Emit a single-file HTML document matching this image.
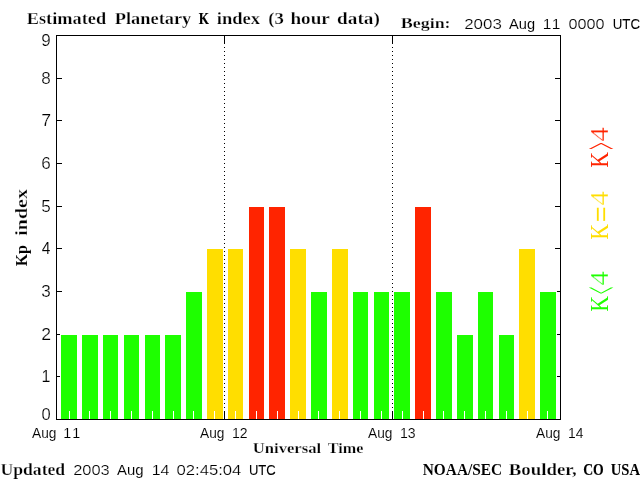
<!DOCTYPE html>
<html lang="en">
<head>
<meta charset="utf-8">
<title>Estimated Planetary K index (3 hour data)</title>
<style>
html,body{margin:0;padding:0;background:#fff;}
body{width:640px;height:480px;overflow:hidden;}
svg{display:block;}
.sb{font-family:"Liberation Serif",serif;font-weight:bold;stroke-width:0.25px;}
.sr{font-family:"Liberation Serif",serif;font-weight:normal;stroke:none;}
.ss{font-family:"Liberation Sans",sans-serif;font-weight:normal;stroke-width:0.22px;}
text{fill:#000;stroke:#fff;}
</style>
</head>
<body>
<svg width="640" height="480" viewBox="0 0 640 480">
<rect x="0" y="0" width="640" height="480" fill="#fff"/>
<g shape-rendering="crispEdges">
<rect x="57" y="376" width="5" height="1" fill="#000"/>
<rect x="555" y="376" width="5" height="1" fill="#000"/>
<rect x="57" y="334" width="5" height="1" fill="#000"/>
<rect x="555" y="334" width="5" height="1" fill="#000"/>
<rect x="57" y="291" width="5" height="1" fill="#000"/>
<rect x="555" y="291" width="5" height="1" fill="#000"/>
<rect x="57" y="248" width="5" height="1" fill="#000"/>
<rect x="555" y="248" width="5" height="1" fill="#000"/>
<rect x="57" y="206" width="5" height="1" fill="#000"/>
<rect x="555" y="206" width="5" height="1" fill="#000"/>
<rect x="57" y="163" width="5" height="1" fill="#000"/>
<rect x="555" y="163" width="5" height="1" fill="#000"/>
<rect x="57" y="120" width="5" height="1" fill="#000"/>
<rect x="555" y="120" width="5" height="1" fill="#000"/>
<rect x="57" y="78" width="5" height="1" fill="#000"/>
<rect x="555" y="78" width="5" height="1" fill="#000"/>
<rect x="60" y="334" width="18" height="85" fill="#fff"/>
<rect x="61" y="335" width="16" height="84" fill="#1eff00"/>
<rect x="81" y="334" width="18" height="85" fill="#fff"/>
<rect x="82" y="335" width="16" height="84" fill="#1eff00"/>
<rect x="102" y="334" width="17" height="85" fill="#fff"/>
<rect x="103" y="335" width="15" height="84" fill="#1eff00"/>
<rect x="123" y="334" width="17" height="85" fill="#fff"/>
<rect x="124" y="335" width="15" height="84" fill="#1eff00"/>
<rect x="144" y="334" width="17" height="85" fill="#fff"/>
<rect x="145" y="335" width="15" height="84" fill="#1eff00"/>
<rect x="164" y="334" width="18" height="85" fill="#fff"/>
<rect x="165" y="335" width="16" height="84" fill="#1eff00"/>
<rect x="185" y="291" width="18" height="128" fill="#fff"/>
<rect x="186" y="292" width="16" height="127" fill="#1eff00"/>
<rect x="206" y="248" width="18" height="171" fill="#fff"/>
<rect x="207" y="249" width="16" height="170" fill="#ffde00"/>
<rect x="227" y="248" width="17" height="171" fill="#fff"/>
<rect x="228" y="249" width="15" height="170" fill="#ffde00"/>
<rect x="248" y="206" width="17" height="213" fill="#fff"/>
<rect x="249" y="207" width="15" height="212" fill="#ff2400"/>
<rect x="268" y="206" width="18" height="213" fill="#fff"/>
<rect x="269" y="207" width="16" height="212" fill="#ff2400"/>
<rect x="289" y="248" width="18" height="171" fill="#fff"/>
<rect x="290" y="249" width="16" height="170" fill="#ffde00"/>
<rect x="310" y="291" width="18" height="128" fill="#fff"/>
<rect x="311" y="292" width="16" height="127" fill="#1eff00"/>
<rect x="331" y="248" width="18" height="171" fill="#fff"/>
<rect x="332" y="249" width="16" height="170" fill="#ffde00"/>
<rect x="352" y="291" width="17" height="128" fill="#fff"/>
<rect x="353" y="292" width="15" height="127" fill="#1eff00"/>
<rect x="373" y="291" width="17" height="128" fill="#fff"/>
<rect x="374" y="292" width="15" height="127" fill="#1eff00"/>
<rect x="393" y="291" width="18" height="128" fill="#fff"/>
<rect x="394" y="292" width="16" height="127" fill="#1eff00"/>
<rect x="414" y="206" width="18" height="213" fill="#fff"/>
<rect x="415" y="207" width="16" height="212" fill="#ff2400"/>
<rect x="435" y="291" width="18" height="128" fill="#fff"/>
<rect x="436" y="292" width="16" height="127" fill="#1eff00"/>
<rect x="456" y="334" width="18" height="85" fill="#fff"/>
<rect x="457" y="335" width="16" height="84" fill="#1eff00"/>
<rect x="477" y="291" width="17" height="128" fill="#fff"/>
<rect x="478" y="292" width="15" height="127" fill="#1eff00"/>
<rect x="498" y="334" width="17" height="85" fill="#fff"/>
<rect x="499" y="335" width="15" height="84" fill="#1eff00"/>
<rect x="518" y="248" width="18" height="171" fill="#fff"/>
<rect x="519" y="249" width="16" height="170" fill="#ffde00"/>
<rect x="539" y="291" width="18" height="128" fill="#fff"/>
<rect x="540" y="292" width="16" height="127" fill="#1eff00"/>
<rect x="69" y="411" width="1" height="8" fill="#fff"/>
<rect x="89" y="411" width="1" height="8" fill="#fff"/>
<rect x="110" y="411" width="1" height="8" fill="#fff"/>
<rect x="131" y="411" width="1" height="8" fill="#fff"/>
<rect x="152" y="411" width="1" height="8" fill="#fff"/>
<rect x="173" y="411" width="1" height="8" fill="#fff"/>
<rect x="193" y="411" width="1" height="8" fill="#fff"/>
<rect x="214" y="411" width="1" height="8" fill="#fff"/>
<rect x="235" y="411" width="1" height="8" fill="#fff"/>
<rect x="256" y="411" width="1" height="8" fill="#fff"/>
<rect x="277" y="411" width="1" height="8" fill="#fff"/>
<rect x="298" y="411" width="1" height="8" fill="#fff"/>
<rect x="318" y="411" width="1" height="8" fill="#fff"/>
<rect x="339" y="411" width="1" height="8" fill="#fff"/>
<rect x="360" y="411" width="1" height="8" fill="#fff"/>
<rect x="381" y="411" width="1" height="8" fill="#fff"/>
<rect x="402" y="411" width="1" height="8" fill="#fff"/>
<rect x="423" y="411" width="1" height="8" fill="#fff"/>
<rect x="443" y="411" width="1" height="8" fill="#fff"/>
<rect x="464" y="411" width="1" height="8" fill="#fff"/>
<rect x="485" y="411" width="1" height="8" fill="#fff"/>
<rect x="506" y="411" width="1" height="8" fill="#fff"/>
<rect x="527" y="411" width="1" height="8" fill="#fff"/>
<rect x="547" y="411" width="1" height="8" fill="#fff"/>
<rect x="56" y="35" width="505" height="1" fill="#000"/>
<rect x="56" y="419" width="505" height="1" fill="#000"/>
<rect x="56" y="35" width="1" height="385" fill="#000"/>
<rect x="560" y="35" width="1" height="385" fill="#000"/>
<rect x="224" y="36" width="1" height="8" fill="#000"/>
<rect x="224" y="411" width="1" height="8" fill="#000"/>
<rect x="224" y="47" width="1" height="1" fill="#000"/>
<rect x="224" y="51" width="1" height="1" fill="#000"/>
<rect x="224" y="55" width="1" height="1" fill="#000"/>
<rect x="224" y="59" width="1" height="1" fill="#000"/>
<rect x="224" y="63" width="1" height="1" fill="#000"/>
<rect x="224" y="67" width="1" height="1" fill="#000"/>
<rect x="224" y="71" width="1" height="1" fill="#000"/>
<rect x="224" y="75" width="1" height="1" fill="#000"/>
<rect x="224" y="79" width="1" height="1" fill="#000"/>
<rect x="224" y="83" width="1" height="1" fill="#000"/>
<rect x="224" y="87" width="1" height="1" fill="#000"/>
<rect x="224" y="91" width="1" height="1" fill="#000"/>
<rect x="224" y="95" width="1" height="1" fill="#000"/>
<rect x="224" y="99" width="1" height="1" fill="#000"/>
<rect x="224" y="103" width="1" height="1" fill="#000"/>
<rect x="224" y="107" width="1" height="1" fill="#000"/>
<rect x="224" y="111" width="1" height="1" fill="#000"/>
<rect x="224" y="115" width="1" height="1" fill="#000"/>
<rect x="224" y="119" width="1" height="1" fill="#000"/>
<rect x="224" y="123" width="1" height="1" fill="#000"/>
<rect x="224" y="127" width="1" height="1" fill="#000"/>
<rect x="224" y="131" width="1" height="1" fill="#000"/>
<rect x="224" y="135" width="1" height="1" fill="#000"/>
<rect x="224" y="139" width="1" height="1" fill="#000"/>
<rect x="224" y="143" width="1" height="1" fill="#000"/>
<rect x="224" y="147" width="1" height="1" fill="#000"/>
<rect x="224" y="151" width="1" height="1" fill="#000"/>
<rect x="224" y="155" width="1" height="1" fill="#000"/>
<rect x="224" y="159" width="1" height="1" fill="#000"/>
<rect x="224" y="163" width="1" height="1" fill="#000"/>
<rect x="224" y="167" width="1" height="1" fill="#000"/>
<rect x="224" y="171" width="1" height="1" fill="#000"/>
<rect x="224" y="175" width="1" height="1" fill="#000"/>
<rect x="224" y="179" width="1" height="1" fill="#000"/>
<rect x="224" y="183" width="1" height="1" fill="#000"/>
<rect x="224" y="187" width="1" height="1" fill="#000"/>
<rect x="224" y="191" width="1" height="1" fill="#000"/>
<rect x="224" y="195" width="1" height="1" fill="#000"/>
<rect x="224" y="199" width="1" height="1" fill="#000"/>
<rect x="224" y="203" width="1" height="1" fill="#000"/>
<rect x="224" y="207" width="1" height="1" fill="#000"/>
<rect x="224" y="211" width="1" height="1" fill="#000"/>
<rect x="224" y="215" width="1" height="1" fill="#000"/>
<rect x="224" y="219" width="1" height="1" fill="#000"/>
<rect x="224" y="223" width="1" height="1" fill="#000"/>
<rect x="224" y="227" width="1" height="1" fill="#000"/>
<rect x="224" y="231" width="1" height="1" fill="#000"/>
<rect x="224" y="235" width="1" height="1" fill="#000"/>
<rect x="224" y="239" width="1" height="1" fill="#000"/>
<rect x="224" y="243" width="1" height="1" fill="#000"/>
<rect x="224" y="247" width="1" height="1" fill="#000"/>
<rect x="224" y="251" width="1" height="1" fill="#000"/>
<rect x="224" y="255" width="1" height="1" fill="#000"/>
<rect x="224" y="259" width="1" height="1" fill="#000"/>
<rect x="224" y="263" width="1" height="1" fill="#000"/>
<rect x="224" y="267" width="1" height="1" fill="#000"/>
<rect x="224" y="271" width="1" height="1" fill="#000"/>
<rect x="224" y="275" width="1" height="1" fill="#000"/>
<rect x="224" y="279" width="1" height="1" fill="#000"/>
<rect x="224" y="283" width="1" height="1" fill="#000"/>
<rect x="224" y="287" width="1" height="1" fill="#000"/>
<rect x="224" y="291" width="1" height="1" fill="#000"/>
<rect x="224" y="295" width="1" height="1" fill="#000"/>
<rect x="224" y="299" width="1" height="1" fill="#000"/>
<rect x="224" y="303" width="1" height="1" fill="#000"/>
<rect x="224" y="307" width="1" height="1" fill="#000"/>
<rect x="224" y="311" width="1" height="1" fill="#000"/>
<rect x="224" y="315" width="1" height="1" fill="#000"/>
<rect x="224" y="319" width="1" height="1" fill="#000"/>
<rect x="224" y="323" width="1" height="1" fill="#000"/>
<rect x="224" y="327" width="1" height="1" fill="#000"/>
<rect x="224" y="331" width="1" height="1" fill="#000"/>
<rect x="224" y="335" width="1" height="1" fill="#000"/>
<rect x="224" y="339" width="1" height="1" fill="#000"/>
<rect x="224" y="343" width="1" height="1" fill="#000"/>
<rect x="224" y="347" width="1" height="1" fill="#000"/>
<rect x="224" y="351" width="1" height="1" fill="#000"/>
<rect x="224" y="355" width="1" height="1" fill="#000"/>
<rect x="224" y="359" width="1" height="1" fill="#000"/>
<rect x="224" y="363" width="1" height="1" fill="#000"/>
<rect x="224" y="367" width="1" height="1" fill="#000"/>
<rect x="224" y="371" width="1" height="1" fill="#000"/>
<rect x="224" y="375" width="1" height="1" fill="#000"/>
<rect x="224" y="379" width="1" height="1" fill="#000"/>
<rect x="224" y="383" width="1" height="1" fill="#000"/>
<rect x="224" y="387" width="1" height="1" fill="#000"/>
<rect x="224" y="391" width="1" height="1" fill="#000"/>
<rect x="224" y="395" width="1" height="1" fill="#000"/>
<rect x="224" y="399" width="1" height="1" fill="#000"/>
<rect x="224" y="403" width="1" height="1" fill="#000"/>
<rect x="224" y="407" width="1" height="1" fill="#000"/>
<rect x="392" y="36" width="1" height="8" fill="#000"/>
<rect x="392" y="411" width="1" height="8" fill="#000"/>
<rect x="392" y="47" width="1" height="1" fill="#000"/>
<rect x="392" y="51" width="1" height="1" fill="#000"/>
<rect x="392" y="55" width="1" height="1" fill="#000"/>
<rect x="392" y="59" width="1" height="1" fill="#000"/>
<rect x="392" y="63" width="1" height="1" fill="#000"/>
<rect x="392" y="67" width="1" height="1" fill="#000"/>
<rect x="392" y="71" width="1" height="1" fill="#000"/>
<rect x="392" y="75" width="1" height="1" fill="#000"/>
<rect x="392" y="79" width="1" height="1" fill="#000"/>
<rect x="392" y="83" width="1" height="1" fill="#000"/>
<rect x="392" y="87" width="1" height="1" fill="#000"/>
<rect x="392" y="91" width="1" height="1" fill="#000"/>
<rect x="392" y="95" width="1" height="1" fill="#000"/>
<rect x="392" y="99" width="1" height="1" fill="#000"/>
<rect x="392" y="103" width="1" height="1" fill="#000"/>
<rect x="392" y="107" width="1" height="1" fill="#000"/>
<rect x="392" y="111" width="1" height="1" fill="#000"/>
<rect x="392" y="115" width="1" height="1" fill="#000"/>
<rect x="392" y="119" width="1" height="1" fill="#000"/>
<rect x="392" y="123" width="1" height="1" fill="#000"/>
<rect x="392" y="127" width="1" height="1" fill="#000"/>
<rect x="392" y="131" width="1" height="1" fill="#000"/>
<rect x="392" y="135" width="1" height="1" fill="#000"/>
<rect x="392" y="139" width="1" height="1" fill="#000"/>
<rect x="392" y="143" width="1" height="1" fill="#000"/>
<rect x="392" y="147" width="1" height="1" fill="#000"/>
<rect x="392" y="151" width="1" height="1" fill="#000"/>
<rect x="392" y="155" width="1" height="1" fill="#000"/>
<rect x="392" y="159" width="1" height="1" fill="#000"/>
<rect x="392" y="163" width="1" height="1" fill="#000"/>
<rect x="392" y="167" width="1" height="1" fill="#000"/>
<rect x="392" y="171" width="1" height="1" fill="#000"/>
<rect x="392" y="175" width="1" height="1" fill="#000"/>
<rect x="392" y="179" width="1" height="1" fill="#000"/>
<rect x="392" y="183" width="1" height="1" fill="#000"/>
<rect x="392" y="187" width="1" height="1" fill="#000"/>
<rect x="392" y="191" width="1" height="1" fill="#000"/>
<rect x="392" y="195" width="1" height="1" fill="#000"/>
<rect x="392" y="199" width="1" height="1" fill="#000"/>
<rect x="392" y="203" width="1" height="1" fill="#000"/>
<rect x="392" y="207" width="1" height="1" fill="#000"/>
<rect x="392" y="211" width="1" height="1" fill="#000"/>
<rect x="392" y="215" width="1" height="1" fill="#000"/>
<rect x="392" y="219" width="1" height="1" fill="#000"/>
<rect x="392" y="223" width="1" height="1" fill="#000"/>
<rect x="392" y="227" width="1" height="1" fill="#000"/>
<rect x="392" y="231" width="1" height="1" fill="#000"/>
<rect x="392" y="235" width="1" height="1" fill="#000"/>
<rect x="392" y="239" width="1" height="1" fill="#000"/>
<rect x="392" y="243" width="1" height="1" fill="#000"/>
<rect x="392" y="247" width="1" height="1" fill="#000"/>
<rect x="392" y="251" width="1" height="1" fill="#000"/>
<rect x="392" y="255" width="1" height="1" fill="#000"/>
<rect x="392" y="259" width="1" height="1" fill="#000"/>
<rect x="392" y="263" width="1" height="1" fill="#000"/>
<rect x="392" y="267" width="1" height="1" fill="#000"/>
<rect x="392" y="271" width="1" height="1" fill="#000"/>
<rect x="392" y="275" width="1" height="1" fill="#000"/>
<rect x="392" y="279" width="1" height="1" fill="#000"/>
<rect x="392" y="283" width="1" height="1" fill="#000"/>
<rect x="392" y="287" width="1" height="1" fill="#000"/>
<rect x="392" y="291" width="1" height="1" fill="#000"/>
<rect x="392" y="295" width="1" height="1" fill="#000"/>
<rect x="392" y="299" width="1" height="1" fill="#000"/>
<rect x="392" y="303" width="1" height="1" fill="#000"/>
<rect x="392" y="307" width="1" height="1" fill="#000"/>
<rect x="392" y="311" width="1" height="1" fill="#000"/>
<rect x="392" y="315" width="1" height="1" fill="#000"/>
<rect x="392" y="319" width="1" height="1" fill="#000"/>
<rect x="392" y="323" width="1" height="1" fill="#000"/>
<rect x="392" y="327" width="1" height="1" fill="#000"/>
<rect x="392" y="331" width="1" height="1" fill="#000"/>
<rect x="392" y="335" width="1" height="1" fill="#000"/>
<rect x="392" y="339" width="1" height="1" fill="#000"/>
<rect x="392" y="343" width="1" height="1" fill="#000"/>
<rect x="392" y="347" width="1" height="1" fill="#000"/>
<rect x="392" y="351" width="1" height="1" fill="#000"/>
<rect x="392" y="355" width="1" height="1" fill="#000"/>
<rect x="392" y="359" width="1" height="1" fill="#000"/>
<rect x="392" y="363" width="1" height="1" fill="#000"/>
<rect x="392" y="367" width="1" height="1" fill="#000"/>
<rect x="392" y="371" width="1" height="1" fill="#000"/>
<rect x="392" y="375" width="1" height="1" fill="#000"/>
<rect x="392" y="379" width="1" height="1" fill="#000"/>
<rect x="392" y="383" width="1" height="1" fill="#000"/>
<rect x="392" y="387" width="1" height="1" fill="#000"/>
<rect x="392" y="391" width="1" height="1" fill="#000"/>
<rect x="392" y="395" width="1" height="1" fill="#000"/>
<rect x="392" y="399" width="1" height="1" fill="#000"/>
<rect x="392" y="403" width="1" height="1" fill="#000"/>
<rect x="392" y="407" width="1" height="1" fill="#000"/>
</g>
<text class="sb" font-size="16.75"><tspan x="26.73" y="24" textLength="79.36" lengthAdjust="spacingAndGlyphs">Estimated</tspan> <tspan x="114.73" y="24" textLength="76.58" lengthAdjust="spacingAndGlyphs">Planetary</tspan> <tspan x="198.8" y="24" textLength="10.22" lengthAdjust="spacingAndGlyphs" style="stroke:#000;stroke-width:0.19px;">K</tspan> <tspan x="216.72" y="24" textLength="43.4" lengthAdjust="spacingAndGlyphs">index</tspan> <tspan x="268.16" y="24" textLength="15.63" lengthAdjust="spacingAndGlyphs">(3</tspan> <tspan x="290.43" y="24" textLength="39.08" lengthAdjust="spacingAndGlyphs">hour</tspan> <tspan x="337.14" y="24" textLength="42.7" lengthAdjust="spacingAndGlyphs">data)</tspan></text>
<text class="sb" font-size="15.25"><tspan x="400.71" y="28" textLength="49.91" lengthAdjust="spacingAndGlyphs">Begin:</tspan> <tspan x="464.18" y="29" class="ss" font-size="15.5" textLength="37.62" lengthAdjust="spacingAndGlyphs">2003</tspan> <tspan x="509" y="29" class="ss" font-size="15.5" textLength="26.03" lengthAdjust="spacingAndGlyphs" style="stroke-width:0.06px;">Aug</tspan> <tspan x="542.79" y="29" class="ss" font-size="15.5" style="stroke-width:0.15px;">1</tspan><tspan x="551.79" y="29" class="ss" font-size="15.5" style="stroke-width:0.15px;">1</tspan> <tspan x="568.48" y="29" class="ss" font-size="15.5" textLength="36.03" lengthAdjust="spacingAndGlyphs" style="stroke-width:0.21px;">0000</tspan> <tspan x="612.68" y="29" class="ss" font-size="15.5" textLength="27.35" lengthAdjust="spacingAndGlyphs" style="stroke:#000;stroke-width:0.06px;">UTC</tspan></text>
<text class="ss" font-size="14.3"><tspan x="32" y="438" textLength="24.41" lengthAdjust="spacingAndGlyphs" style="stroke-width:0.09px;">Aug</tspan> <tspan x="63.19" y="438" style="stroke-width:0.15px;">1</tspan><tspan x="72.19" y="438" style="stroke-width:0.15px;">1</tspan></text>
<text class="ss" font-size="14.3"><tspan x="200" y="438" textLength="24.41" lengthAdjust="spacingAndGlyphs" style="stroke-width:0.09px;">Aug</tspan> <tspan x="232.02" y="438" textLength="15.63" lengthAdjust="spacingAndGlyphs" style="stroke-width:0.12px;">12</tspan></text>
<text class="ss" font-size="14.3"><tspan x="368" y="438" textLength="24.41" lengthAdjust="spacingAndGlyphs" style="stroke-width:0.09px;">Aug</tspan> <tspan x="400.02" y="438" textLength="15.63" lengthAdjust="spacingAndGlyphs" style="stroke-width:0.12px;">13</tspan></text>
<text class="ss" font-size="14.3"><tspan x="536" y="438" textLength="24.41" lengthAdjust="spacingAndGlyphs" style="stroke-width:0.09px;">Aug</tspan> <tspan x="568.03" y="438" textLength="15.36" lengthAdjust="spacingAndGlyphs" style="stroke-width:0.10px;">14</tspan></text>
<text class="sb" font-size="15.25"><tspan x="252.73" y="453" textLength="68.49" lengthAdjust="spacingAndGlyphs">Universal</tspan> <tspan x="327.73" y="453" textLength="35.65" lengthAdjust="spacingAndGlyphs">Time</tspan></text>
<text class="sb" font-size="16.75"><tspan x="0.47" y="475" textLength="64.72" lengthAdjust="spacingAndGlyphs">Updated</tspan> <tspan x="73.2" y="475" class="ss" font-size="15.5" textLength="36.57" lengthAdjust="spacingAndGlyphs">2003</tspan> <tspan x="117" y="475" class="ss" font-size="15.5" textLength="26.55" lengthAdjust="spacingAndGlyphs" style="stroke-width:0.09px;">Aug</tspan> <tspan x="151.71" y="475" class="ss" font-size="15.5" textLength="17.81" lengthAdjust="spacingAndGlyphs" style="stroke-width:0.19px;">14</tspan> <tspan x="176.46" y="475" class="ss" font-size="15.5" textLength="64.93" lengthAdjust="spacingAndGlyphs">02:45:04</tspan> <tspan x="248.95" y="475" class="ss" font-size="15.5" textLength="26.81" lengthAdjust="spacingAndGlyphs" style="stroke:#000;stroke-width:0.09px;">UTC</tspan></text>
<text class="sb" font-size="16.75"><tspan x="422.77" y="475" textLength="79.43" lengthAdjust="spacingAndGlyphs" style="stroke-width:0.03px;">NOAA/SEC</tspan> <tspan x="508.72" y="475" textLength="67.97" lengthAdjust="spacingAndGlyphs">Boulder,</tspan> <tspan x="583.14" y="475" textLength="20.58" lengthAdjust="spacingAndGlyphs" style="stroke:#000;stroke-width:0.13px;">CO</tspan> <tspan x="610.81" y="475" textLength="29.2" lengthAdjust="spacingAndGlyphs" style="stroke:#000;stroke-width:0.05px;">USA</tspan></text>
<text class="ss" font-size="16"><tspan x="41.48" y="420" textLength="9.19" lengthAdjust="spacingAndGlyphs" style="stroke-width:0.19px;">0</tspan></text>
<text class="ss" font-size="16"><tspan x="41.62" y="382.25" style="stroke-width:0.15px;">1</tspan></text>
<text class="ss" font-size="16"><tspan x="41.17" y="340.25" textLength="9.83" lengthAdjust="spacingAndGlyphs">2</tspan></text>
<text class="ss" font-size="16"><tspan x="41.2" y="297.25" textLength="9.5" lengthAdjust="spacingAndGlyphs">3</tspan></text>
<text class="ss" font-size="16"><tspan x="41.76" y="254.25" textLength="8.64" lengthAdjust="spacingAndGlyphs" style="stroke-width:0.10px;">4</tspan></text>
<text class="ss" font-size="16"><tspan x="41.2" y="212.25" textLength="9.5" lengthAdjust="spacingAndGlyphs">5</tspan></text>
<text class="ss" font-size="16"><tspan x="41.2" y="169.25" textLength="9.5" lengthAdjust="spacingAndGlyphs">6</tspan></text>
<text class="ss" font-size="16"><tspan x="41.17" y="126.25" textLength="9.83" lengthAdjust="spacingAndGlyphs">7</tspan></text>
<text class="ss" font-size="16"><tspan x="41.2" y="84.25" textLength="9.5" lengthAdjust="spacingAndGlyphs">8</tspan></text>
<text class="ss" font-size="16"><tspan x="41.2" y="46" textLength="9.5" lengthAdjust="spacingAndGlyphs">9</tspan></text>
<text class="sb" font-size="16.75" transform="translate(27,266) rotate(-90)"><tspan x="-0.24" y="0" textLength="21.11" lengthAdjust="spacingAndGlyphs" style="stroke-width:0.07px;">Kp</tspan> <tspan x="30.3" y="0" textLength="46.63" lengthAdjust="spacingAndGlyphs">index</tspan></text>
<text class="sr" font-size="24.4" transform="translate(608,167) rotate(-90)" style="fill:#ff2400"><tspan x="-0.67" y="0" textLength="15.78" lengthAdjust="spacingAndGlyphs">K</tspan><tspan x="17.33" y="9.6" textLength="7.34" lengthAdjust="spacingAndGlyphs" font-size="49.84">&gt;</tspan><tspan x="25.42" y="0" textLength="14.1" lengthAdjust="spacingAndGlyphs" style="stroke:#fff;stroke-width:0.3px;">4</tspan></text>
<text class="sr" font-size="24.4" transform="translate(608,239) rotate(-90)" style="fill:#ffde00"><tspan x="-0.67" y="0" textLength="15.78" lengthAdjust="spacingAndGlyphs">K</tspan><tspan x="16.78" y="3.64" textLength="15.66" lengthAdjust="spacingAndGlyphs" font-size="32.4" style="stroke:#ffde00;stroke-width:0.2px;">=</tspan><tspan x="33.42" y="0" textLength="14.1" lengthAdjust="spacingAndGlyphs" style="stroke:#fff;stroke-width:0.3px;">4</tspan></text>
<text class="sr" font-size="24.4" transform="translate(608,311) rotate(-90)" style="fill:#1eff00"><tspan x="-0.67" y="0" textLength="15.78" lengthAdjust="spacingAndGlyphs">K</tspan><tspan x="16.83" y="9.6" textLength="7.34" lengthAdjust="spacingAndGlyphs" font-size="49.84">&lt;</tspan><tspan x="25.42" y="0" textLength="14.1" lengthAdjust="spacingAndGlyphs" style="stroke:#fff;stroke-width:0.3px;">4</tspan></text>
</svg>
</body>
</html>
